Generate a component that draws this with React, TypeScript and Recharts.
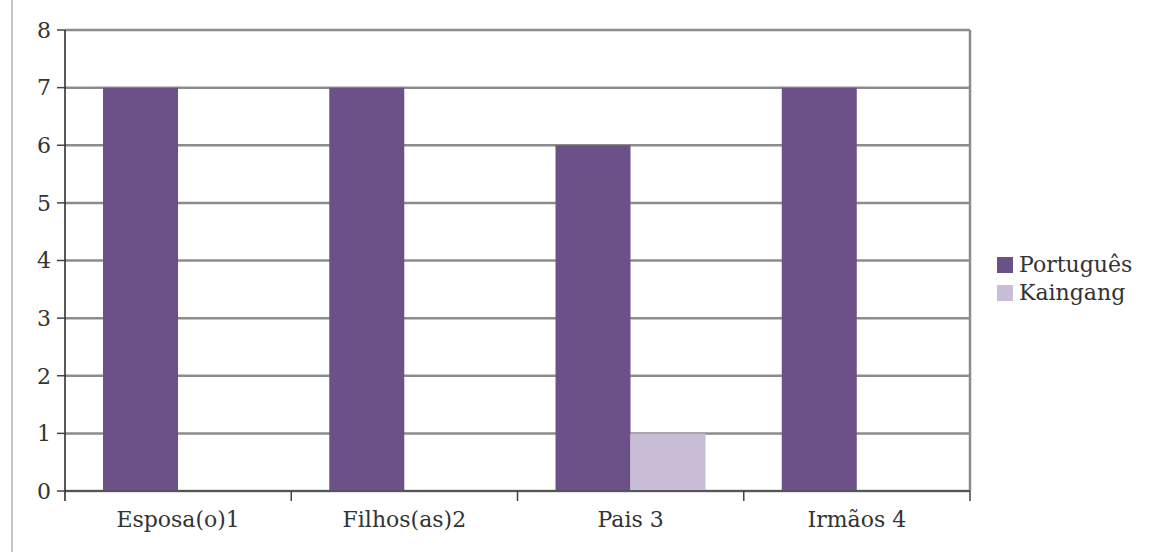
import React from "react";
import {
  BarChart,
  Bar,
  XAxis,
  YAxis,
  CartesianGrid,
  Legend,
} from "recharts";

const categories = ["Esposa(o)1", "Filhos(as)2", "Pais 3", "Irmãos 4"];
const portugues = [7, 7, 6, 7];
const kaingang = [0, 0, 1, 0];
const yTicks = [0, 1, 2, 3, 4, 5, 6, 7, 8];

const data = categories.map((name, i) => ({
  name,
  portugues: portugues[i],
  kaingang: kaingang[i],
}));

const series = [
  { key: "portugues", name: "Português", color: "#6b5188" },
  { key: "kaingang", name: "Kaingang", color: "#c9bdd8" },
];

const FONT = "'DejaVu Serif', 'Liberation Serif', serif";
const WIDTH = 1154;
const HEIGHT = 558;
const LEGEND_W = 150;
const Y_W = 50;
const MARGIN = { top: 30, right: 34, left: 15, bottom: 27 };

// label at band centre, tick mark at the band's right edge
function CategoryTick(props: any) {
  const { x, y, payload, index } = props;
  const plotWidth = WIDTH - MARGIN.left - Y_W - MARGIN.right - LEGEND_W;
  const band = plotWidth / categories.length;
  const edge = x + band / 2;
  return (
    <g>
      <line x1={edge} y1={y - 8} x2={edge} y2={y + 2} stroke="#444" strokeWidth={1.5} />
      {index === 0 && (
        <line x1={x - band / 2} y1={y - 8} x2={x - band / 2} y2={y + 2} stroke="#222" strokeWidth={1.5} />
      )}
      <text
        x={x}
        y={y + 28}
        textAnchor="middle"
        fill="#333"
        fontSize={22}
        fontFamily={FONT}
      >
        {payload.value}
      </text>
    </g>
  );
}

function LegendBox() {
  return (
    <div style={{ fontFamily: FONT, fontSize: 22, color: "#333", lineHeight: "28px" }}>
      {series.map((s) => (
        <div key={s.key} style={{ display: "flex", alignItems: "center" }}>
          <span
            style={{ display: "inline-block", width: 16, height: 16, background: s.color, marginRight: 6 }}
          />
          {s.name}
        </div>
      ))}
    </div>
  );
}

export default function App() {
  return (
    <div style={{ position: "absolute", left: 0, top: 0, width: WIDTH, height: HEIGHT, background: "#fff" }}>
      <div
        style={{
          position: "absolute",
          left: 11,
          top: 0,
          width: 2,
          height: 552,
          background: "#c4c4c4",
        }}
      />
      <BarChart
        width={WIDTH}
        height={HEIGHT}
        data={data}
        margin={MARGIN}
        barCategoryGap="16.8%"
        barGap={0}
      >
        <CartesianGrid
          stroke="#8c8c8c"
          strokeWidth={2.5}
          vertical
          verticalCoordinatesGenerator={({ offset }: any) => [offset.left + offset.width]}
        />
        <XAxis
          dataKey="name"
          tickLine={false}
          axisLine={{ stroke: "#555", strokeWidth: 2 }}
          tick={<CategoryTick />}
          height={40}
          interval={0}
        />
        <YAxis
          domain={[0, 8]}
          ticks={yTicks}
          width={Y_W}
          tickSize={8}
          tickMargin={6}
          tickLine={{ stroke: "#444", strokeWidth: 1.5 }}
          axisLine={{ stroke: "#222", strokeWidth: 1.5 }}
          tick={{ fill: "#333", fontSize: 22, fontFamily: FONT }}
        />
        <Legend
          layout="vertical"
          align="right"
          verticalAlign="middle"
          width={LEGEND_W}
          content={<LegendBox />}
          wrapperStyle={{ left: 997, top: 251 }}
        />
        {series.map((s) => (
          <Bar key={s.key} dataKey={s.key} name={s.name} fill={s.color} isAnimationActive={false} />
        ))}
      </BarChart>
    </div>
  );
}
